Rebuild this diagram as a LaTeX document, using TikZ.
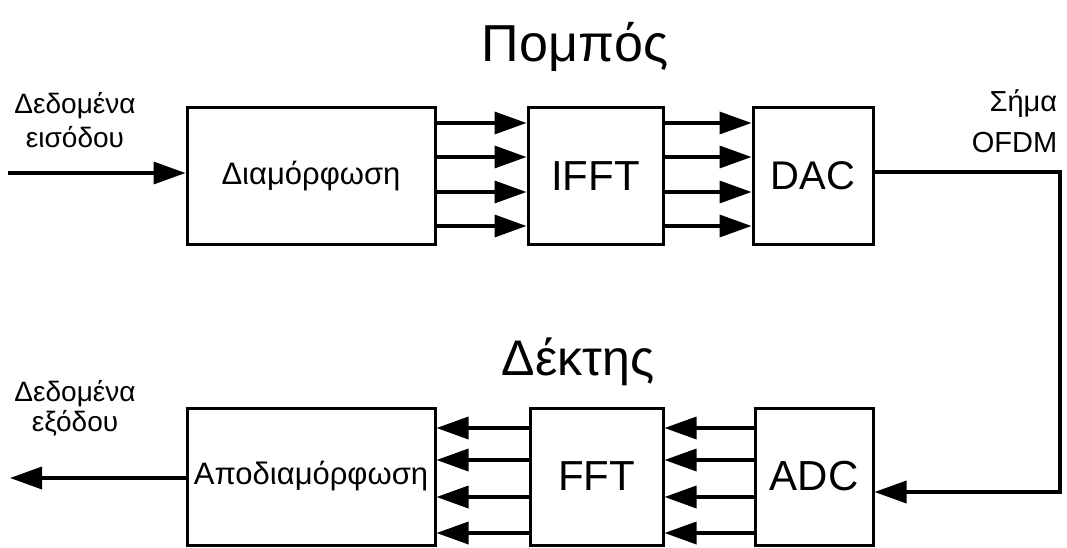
\documentclass[tikz,border=0pt]{standalone}
\usepackage{fontspec}
\setmainfont{Liberation Sans}
\usetikzlibrary{arrows.meta}
\begin{document}
\begin{tikzpicture}[x=1pt, y=-1pt, line width=3pt, line join=miter,
  block/.style={draw, line width=3pt, inner sep=0pt, minimum height=136pt},
  arr/.style={-{Triangle[length=32pt,width=22pt]}, line width=3.5pt},
  lbl/.style={align=center, font=\fontsize{28}{34}\selectfont}]
  \useasboundingbox (0,0) rectangle (1067,548);
  % the transmitter, with its title
  \node[anchor=base, font=\fontsize{52}{60}\selectfont] (txtitle) at (575,62) {Πομπός};
  \node[block, minimum width=248pt, font=\fontsize{31}{33}\selectfont] (mod) at (311,176) {Διαμόρφωση};
  \node[block, minimum width=135pt, font=\fontsize{42}{44}\selectfont] (ifft) at (595.5,176) {IFFT};
  \node[block, minimum width=120pt, font=\fontsize{40}{44}\selectfont] (dac) at (813,176) {DAC};
  % the receiver, with its title
  \node[anchor=base, font=\fontsize{50}{60}\selectfont] (rxtitle) at (578,375) {Δέκτης};
  \node[block, minimum width=248pt, minimum height=137pt, font=\fontsize{31}{33}\selectfont] (demod) at (311,476.5) {Αποδιαμόρφωση};
  \node[block, minimum width=133pt, minimum height=137pt, font=\fontsize{42}{44}\selectfont] (fft) at (596.5,476.5) {FFT};
  \node[block, minimum width=118pt, minimum height=137pt, font=\fontsize{42}{44}\selectfont] (adc) at (814,476.5) {ADC};
  % the labels at the ends
  \node[lbl] (inlbl) at (75,120) {Δεδομένα\\εισόδου};
  \node[lbl, font=\fontsize{28}{30}\selectfont] (outlbl) at (75,408) {Δεδομένα\\εξόδου};
  \node[anchor=base east, font=\fontsize{29}{30}\selectfont] (sig1) at (1062,112) {Σήμα};
  \node[anchor=base east, font=\fontsize{29}{30}\selectfont] (sig2) at (1062,153) {OFDM};
  % input and output of the data
  \coordinate (in) at (8,173);
  \coordinate (out) at (10,478);
  \draw[arr] (in) -- (in -| mod.west);
  \draw[arr] (out -| demod.west) -- (out);
  % the parallel lines between the blocks
  \foreach \y in {123,157,192,226} {
    \draw[arr] (mod.east |- 0,\y) -- (ifft.west |- 0,\y);
    \draw[arr] (ifft.east |- 0,\y) -- (dac.west |- 0,\y);
  }
  \foreach \y in {428,460,497,533} {
    \draw[arr] (adc.west |- 0,\y) -- (fft.east |- 0,\y);
    \draw[arr] (fft.west |- 0,\y) -- (demod.east |- 0,\y);
  }
  % the channel from the dac round to the adc
  \coordinate (ofdm) at (1060,172);
  \coordinate (rx) at (1060,492);
  \draw[arr] (dac.east |- ofdm) -- (ofdm) -- (rx) -- (adc.east |- rx);
\end{tikzpicture}
\end{document}
